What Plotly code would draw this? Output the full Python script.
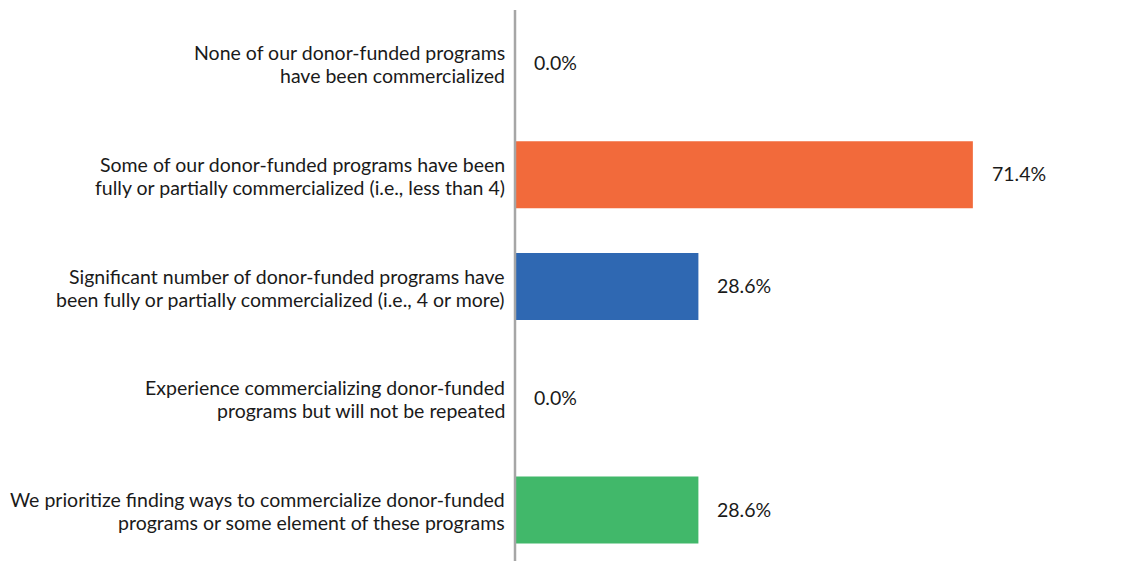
import plotly.graph_objects as go

categories = [
    "None of our donor-funded programs<br>have been commercialized",
    "Some of our donor-funded programs have been<br>fully or partially commercialized (i.e., less than 4)",
    "Significant number of donor-funded programs have<br>been fully or partially commercialized (i.e., 4 or more)",
    "Experience commercializing donor-funded<br>programs but will not be repeated",
    "We prioritize finding ways to commercialize donor-funded<br>programs or some element of these programs",
]
values = [0.0, 71.4, 28.6, 0.0, 28.6]
labels = ["0.0%", "71.4%", "28.6%", "0.0%", "28.6%"]
colors = ["#F26A3B", "#F26A3B", "#2F68B2", "#41B86A", "#41B86A"]

FONT = "Lato, 'Open Sans', sans-serif"
FS = 19.5
TXT = "#1a1a1a"

fig = go.Figure()
fig.add_trace(go.Bar(
    y=categories, x=values, orientation="h",
    marker=dict(color=colors, line=dict(width=0)),
    hoverinfo="skip",
))

for c, v, t in zip(categories, values, labels):
    fig.add_annotation(x=v, y=c, text=t, showarrow=False, xanchor="left",
                       xshift=17, yshift=1, font=dict(family=FONT, size=FS, color=TXT))
    # category label, two lines with tighter line spacing
    lines = c.split("<br>")
    n = len(lines)
    for i, ln in enumerate(lines):
        fig.add_annotation(xref="paper", x=0, y=c, text=ln, showarrow=False,
                           xanchor="right", yanchor="middle", xshift=-8,
                           yshift=(n - 1) / 2 * 23 - i * 23 - 1,
                           font=dict(family=FONT, size=FS, color=TXT))

fig.add_shape(type="line", xref="paper", yref="paper", x0=0, x1=0, y0=0, y1=1,
              line=dict(color="#A6A6A6", width=2.5))

fig.update_layout(
    width=1138, height=553,
    margin=dict(l=507, r=0, t=2, b=0),
    paper_bgcolor="white", plot_bgcolor="white",
    bargap=0.4,
    showlegend=False,
    font=dict(family=FONT, size=FS, color=TXT),
    xaxis=dict(range=[0, 98.4], visible=False, fixedrange=True),
    yaxis=dict(type="category", range=[4.456, -0.475], showgrid=False, zeroline=False,
               showline=False, ticks="", showticklabels=False),
)

fig.write_html("out.html")
